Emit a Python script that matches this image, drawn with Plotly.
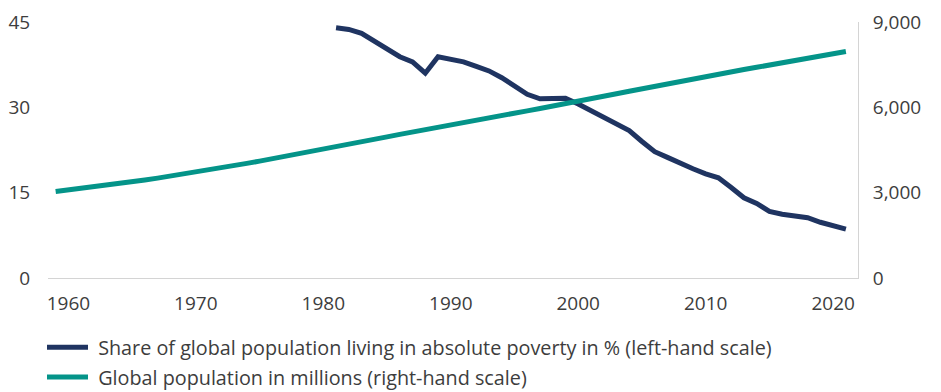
import plotly.graph_objects as go

# Share of global population living in absolute poverty (%), left-hand scale
poverty_years = list(range(1981, 2022))
poverty_share = [44.0, 43.7, 43.0, 41.6, 40.2, 38.9, 38.0, 36.0, 38.9, 38.5,
                 38.0, 37.2, 36.4, 35.2, 33.8, 32.3, 31.5, 31.5, 31.6, 30.6,
                 29.4, 28.4, 27.1, 25.9, 24.0, 22.2, 21.2, 20.1, 19.2, 18.3,
                 17.6, 15.9, 14.1, 13.1, 11.7, 11.2, 10.9, 10.6, 9.8, 9.2, 8.6]

# Global population in millions, right-hand scale
pop_years = list(range(1959, 2022))
population = [3040, 3092, 3146, 3202, 3260, 3320, 3382, 3446, 3512, 3580,
              3650, 3722, 3796, 3872, 3950, 4029, 4109, 4190, 4272, 4355,
              4440, 4526, 4613, 4700, 4787, 4874, 4961, 5048, 5135, 5222,
              5308, 5392, 5474, 5555, 5636, 5716, 5796, 5876, 5956, 6036,
              6120, 6209, 6298, 6387, 6476, 6565, 6654, 6743, 6832, 6921,
              7012, 7092, 7171, 7250, 7329, 7408, 7487, 7566, 7645, 7724,
              7803, 7882, 7961]

x_ticks = [1960, 1970, 1980, 1990, 2000, 2010, 2020]
left_ticks = [0, 15, 30, 45]
right_ticks = [0, 3000, 6000, 9000]

navy = "#1f3461"
teal = "#049489"
text_col = "#3d3d3d"
axis_col = "#d4d4d4"
font_family = "'Open Sans', sans-serif"

fig = go.Figure()
fig.add_trace(go.Scatter(
    x=poverty_years, y=poverty_share, mode="lines",
    name="\u00a0Share of global population living in absolute poverty in % (left-hand scale)",
    legendgroup="a",
    line=dict(color=navy, width=5), yaxis="y"))
fig.add_trace(go.Scatter(
    x=pop_years, y=population, mode="lines",
    name="\u00a0Global population in millions (right-hand scale)",
    legendgroup="b",
    line=dict(color=teal, width=5), yaxis="y2"))

fig.update_layout(
    width=941, height=392,
    margin=dict(l=48, r=83, t=22, b=114, autoexpand=False),
    paper_bgcolor="white", plot_bgcolor="white",
    font=dict(family=font_family, size=19, color=text_col),
    showlegend=True,
    legend=dict(xref="container", yref="container",
                x=42 / 941, y=64 / 392, xanchor="left", yanchor="top",
                orientation="v", font=dict(size=19.8, color=text_col),
                itemwidth=41, tracegroupgap=1, bgcolor="rgba(0,0,0,0)"),
    xaxis=dict(range=[1958.4, 2021.95], tickvals=x_ticks, showgrid=False,
               zeroline=False, showline=True, linecolor=axis_col, linewidth=1,
               ticks="outside", ticklen=8, tickcolor="rgba(0,0,0,0)",
               automargin=False),
    yaxis=dict(range=[0, 45], tickvals=left_ticks, showgrid=False,
               zeroline=False, showline=False, automargin=False,
               ticks="outside", ticklen=13, tickcolor="rgba(0,0,0,0)"),
    yaxis2=dict(range=[0, 9000], tickvals=right_ticks, tickformat=",",
                overlaying="y", side="right", showgrid=False, zeroline=False,
                showline=True, linecolor=axis_col, linewidth=1, automargin=False,
                ticks="outside", ticklen=10, tickcolor="rgba(0,0,0,0)"),
)

fig.write_html("out.html")
